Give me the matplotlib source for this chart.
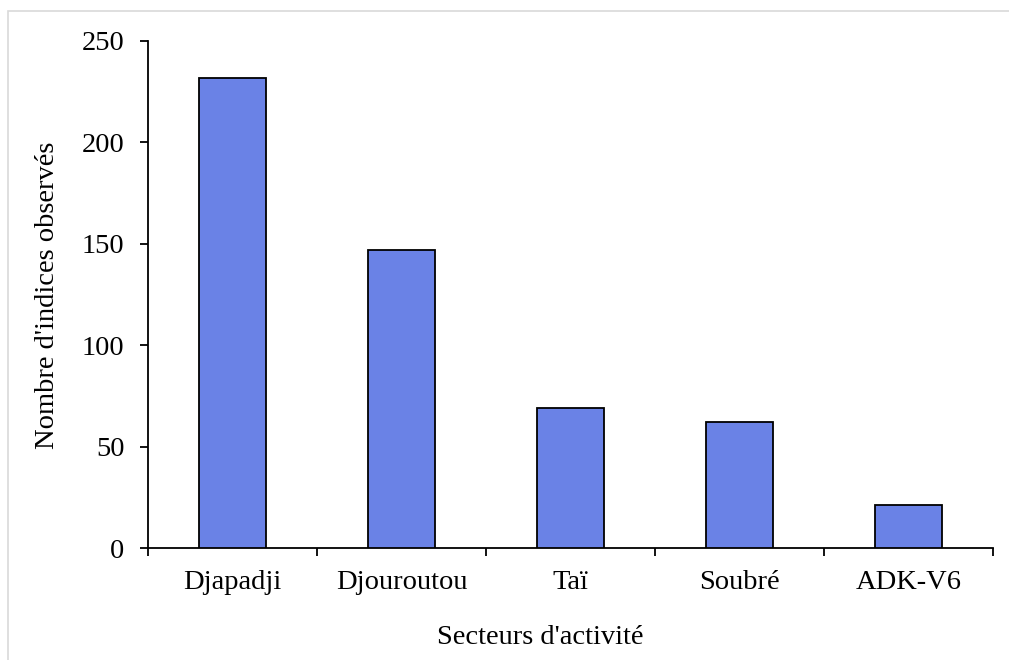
import matplotlib
matplotlib.use("Agg")
import matplotlib.pyplot as plt
from matplotlib.patches import Rectangle
from matplotlib.ticker import FixedLocator, NullFormatter

sectors = ["Djapadji", "Djouroutou", "Taï", "Soubré", "ADK-V6"]
counts = [232, 147, 69, 62, 21]
y_ticks = [0, 50, 100, 150, 200, 250]

plt.rcParams["font.family"] = ["Liberation Serif", "DejaVu Serif"]
FS = 20.5

fig = plt.figure(figsize=(10.09, 6.6), dpi=100)
fig.patch.set_facecolor("white")

# light frame around the chart area
fig.patches.append(Rectangle((8 / 1009, -0.05), 1.2, 1 - 11 / 660 + 0.05,
                             transform=fig.transFigure, fill=False,
                             edgecolor="#d9d9d9", linewidth=1.2, zorder=0))

ax = fig.add_axes([148 / 1009, 1 - 548 / 660, (993 - 148) / 1009, (548 - 41) / 660])

x = list(range(len(sectors)))
ax.bar(x, counts, width=0.4, color="#6A82E6", edgecolor="black", linewidth=1.3, zorder=3)

ax.set_xlim(-0.5, len(sectors) - 0.5)
ax.set_ylim(0, 250)
ax.set_yticks(y_ticks)
ax.set_yticklabels([str(v) for v in y_ticks])

ax.set_xticks(x)
ax.set_xticklabels(sectors)
ax.tick_params(axis="x", which="major", length=0, pad=16, labelsize=FS)
ax.xaxis.set_minor_locator(FixedLocator([i - 0.5 for i in range(len(sectors) + 1)]))
ax.xaxis.set_minor_formatter(NullFormatter())
ax.tick_params(axis="x", which="minor", length=6, width=1.3, direction="out")
ax.tick_params(axis="y", length=6, width=1.3, direction="out", pad=11, labelsize=FS)

for side in ("top", "right"):
    ax.spines[side].set_visible(False)
for side in ("left", "bottom"):
    ax.spines[side].set_linewidth(1.3)

fig.text(48 / 1009, 1 - 295 / 660, "Nombre d'indices observés", rotation=90,
         ha="center", va="center", fontsize=FS)
fig.text(540 / 1009, 1 - 637 / 660, "Secteurs d'activité",
         ha="center", va="center", fontsize=FS)

fig.savefig("out.png", dpi=100, facecolor="white")
